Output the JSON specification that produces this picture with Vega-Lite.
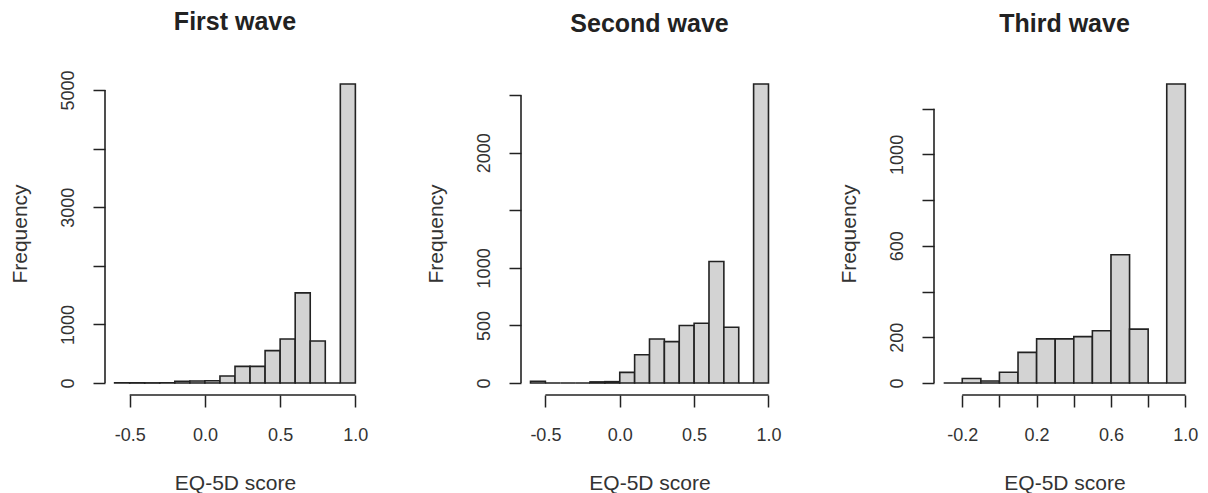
{
  "$schema": "https://vega.github.io/schema/vega-lite/v6.json",
  "background": "white",
  "padding": {"left": 8, "top": 9, "right": 5, "bottom": 5},
  "spacing": 156,
  "bounds": "flush",
  "config": {
    "font": "Liberation Sans",
    "view": {"stroke": null},
    "title": {"fontSize": 25, "fontWeight": "bold", "color": "#222", "anchor": "middle", "offset": 35},
    "axis": {
      "domain": false, "grid": false,
      "tickSize": 12, "tickWidth": 1.5, "tickColor": "#222",
      "labelFontSize": 18, "labelColor": "#333", "labelFlush": false, "labelOverlap": false,
      "titleFontSize": 21, "titleFontWeight": "normal", "titleColor": "#333"
    },
    "axisX": {"labelPadding": 19, "titlePadding": 28},
    "axisY": {"labelAngle": 270, "labelAlign": "center", "labelBaseline": "bottom", "labelPadding": 16, "titlePadding": 29},
    "bar": {"fill": "#d3d3d3", "stroke": "#222", "strokeWidth": 1.6},
    "rule": {"stroke": "#222", "strokeWidth": 1.6}
  },
  "datasets": {
    "wave1": [
      {"bin_start": -0.6, "bin_end": -0.5, "count": 2},
      {"bin_start": -0.5, "bin_end": -0.4, "count": 4},
      {"bin_start": -0.4, "bin_end": -0.3, "count": 3},
      {"bin_start": -0.3, "bin_end": -0.2, "count": 5},
      {"bin_start": -0.2, "bin_end": -0.1, "count": 30},
      {"bin_start": -0.1, "bin_end": 0.0, "count": 35},
      {"bin_start": 0.0, "bin_end": 0.1, "count": 40},
      {"bin_start": 0.1, "bin_end": 0.2, "count": 120},
      {"bin_start": 0.2, "bin_end": 0.3, "count": 285},
      {"bin_start": 0.3, "bin_end": 0.4, "count": 285},
      {"bin_start": 0.4, "bin_end": 0.5, "count": 553},
      {"bin_start": 0.5, "bin_end": 0.6, "count": 752},
      {"bin_start": 0.6, "bin_end": 0.7, "count": 1539},
      {"bin_start": 0.7, "bin_end": 0.8, "count": 718},
      {"bin_start": 0.8, "bin_end": 0.9, "count": 0},
      {"bin_start": 0.9, "bin_end": 1.0, "count": 5103}
    ],
    "wave2": [
      {"bin_start": -0.6, "bin_end": -0.5, "count": 15},
      {"bin_start": -0.5, "bin_end": -0.4, "count": 0},
      {"bin_start": -0.4, "bin_end": -0.3, "count": 0},
      {"bin_start": -0.3, "bin_end": -0.2, "count": 0},
      {"bin_start": -0.2, "bin_end": -0.1, "count": 10},
      {"bin_start": -0.1, "bin_end": 0.0, "count": 12},
      {"bin_start": 0.0, "bin_end": 0.1, "count": 93},
      {"bin_start": 0.1, "bin_end": 0.2, "count": 246},
      {"bin_start": 0.2, "bin_end": 0.3, "count": 383},
      {"bin_start": 0.3, "bin_end": 0.4, "count": 360},
      {"bin_start": 0.4, "bin_end": 0.5, "count": 499},
      {"bin_start": 0.5, "bin_end": 0.6, "count": 519},
      {"bin_start": 0.6, "bin_end": 0.7, "count": 1055},
      {"bin_start": 0.7, "bin_end": 0.8, "count": 484},
      {"bin_start": 0.8, "bin_end": 0.9, "count": 0},
      {"bin_start": 0.9, "bin_end": 1.0, "count": 2597}
    ],
    "wave3": [
      {"bin_start": -0.3, "bin_end": -0.2, "count": 0},
      {"bin_start": -0.2, "bin_end": -0.1, "count": 20},
      {"bin_start": -0.1, "bin_end": 0.0, "count": 9},
      {"bin_start": 0.0, "bin_end": 0.1, "count": 47},
      {"bin_start": 0.1, "bin_end": 0.2, "count": 134},
      {"bin_start": 0.2, "bin_end": 0.3, "count": 193},
      {"bin_start": 0.3, "bin_end": 0.4, "count": 193},
      {"bin_start": 0.4, "bin_end": 0.5, "count": 203},
      {"bin_start": 0.5, "bin_end": 0.6, "count": 229},
      {"bin_start": 0.6, "bin_end": 0.7, "count": 561},
      {"bin_start": 0.7, "bin_end": 0.8, "count": 236},
      {"bin_start": 0.8, "bin_end": 0.9, "count": 0},
      {"bin_start": 0.9, "bin_end": 1.0, "count": 1308}
    ]
  },
  "hconcat": [
    {
      "width": 260, "height": 323,
      "title": "First wave",
      "layer": [
        {
          "data": {"name": "wave1"},
          "mark": {"type": "bar"},
          "encoding": {
            "x": {"field": "bin_start", "type": "quantitative",
              "scale": {"domain": [-0.664, 1.064], "nice": false, "zero": false},
              "axis": {"values": [-0.5, 0, 0.5, 1], "format": ".1f", "labelExpr": "replace(datum.label, '\u2212', '-')", "title": "EQ-5D score"}},
            "x2": {"field": "bin_end"},
            "y": {"field": "count", "type": "quantitative",
              "scale": {"domain": [-204.1, 5307.1], "nice": false, "zero": false},
              "axis": {"values": [0, 1000, 2000, 3000, 4000, 5000], "format": "d", "labelExpr": "datum.label == '2000' || datum.label == '4000' ? '' : datum.label", "title": "Frequency"}},
            "y2": {"datum": 0}
          }
        },
        {
          "data": {"values": [{}]},
          "mark": {"type": "rule"},
          "encoding": {"x": {"datum": -0.5, "type": "quantitative"}, "x2": {"datum": 1.0}, "y": {"datum": -204.1, "type": "quantitative"}}
        },
        {
          "data": {"values": [{}]},
          "mark": {"type": "rule"},
          "encoding": {"x": {"datum": -0.664, "type": "quantitative"}, "y": {"datum": 0, "type": "quantitative"}, "y2": {"datum": 5000}}
        }
      ]
    },
    {
      "width": 257, "height": 323,
      "title": "Second wave",
      "layer": [
        {
          "data": {"name": "wave2"},
          "mark": {"type": "bar"},
          "encoding": {
            "x": {"field": "bin_start", "type": "quantitative",
              "scale": {"domain": [-0.664, 1.064], "nice": false, "zero": false},
              "axis": {"values": [-0.5, 0, 0.5, 1], "format": ".1f", "labelExpr": "replace(datum.label, '\u2212', '-')", "title": "EQ-5D score"}},
            "x2": {"field": "bin_end"},
            "y": {"field": "count", "type": "quantitative",
              "scale": {"domain": [-103.9, 2700.9], "nice": false, "zero": false},
              "axis": {"values": [0, 500, 1000, 1500, 2000, 2500], "format": "d", "labelExpr": "datum.label == '1500' || datum.label == '2500' ? '' : datum.label", "title": "Frequency"}},
            "y2": {"datum": 0}
          }
        },
        {
          "data": {"values": [{}]},
          "mark": {"type": "rule"},
          "encoding": {"x": {"datum": -0.5, "type": "quantitative"}, "x2": {"datum": 1.0}, "y": {"datum": -103.9, "type": "quantitative"}}
        },
        {
          "data": {"values": [{}]},
          "mark": {"type": "rule"},
          "encoding": {"x": {"datum": -0.664, "type": "quantitative"}, "y": {"datum": 0, "type": "quantitative"}, "y2": {"datum": 2500}}
        }
      ]
    },
    {
      "width": 261, "height": 323,
      "title": "Third wave",
      "layer": [
        {
          "data": {"name": "wave3"},
          "mark": {"type": "bar"},
          "encoding": {
            "x": {"field": "bin_start", "type": "quantitative",
              "scale": {"domain": [-0.352, 1.052], "nice": false, "zero": false},
              "axis": {"values": [-0.2, 0, 0.2, 0.4, 0.6, 0.8, 1.0], "format": ".1f", "labelExpr": "indexof(['0.0', '0.4', '0.8'], datum.label) >= 0 ? '' : replace(datum.label, '\u2212', '-')", "title": "EQ-5D score"}},
            "x2": {"field": "bin_end"},
            "y": {"field": "count", "type": "quantitative",
              "scale": {"domain": [-52.3, 1360.3], "nice": false, "zero": false},
              "axis": {"values": [0, 200, 400, 600, 800, 1000, 1200], "format": "d", "labelExpr": "indexof(['400', '800', '1200'], datum.label) >= 0 ? '' : datum.label", "title": "Frequency"}},
            "y2": {"datum": 0}
          }
        },
        {
          "data": {"values": [{}]},
          "mark": {"type": "rule"},
          "encoding": {"x": {"datum": -0.2, "type": "quantitative"}, "x2": {"datum": 1.0}, "y": {"datum": -52.3, "type": "quantitative"}}
        },
        {
          "data": {"values": [{}]},
          "mark": {"type": "rule"},
          "encoding": {"x": {"datum": -0.352, "type": "quantitative"}, "y": {"datum": 0, "type": "quantitative"}, "y2": {"datum": 1200}}
        }
      ]
    }
  ]
}
